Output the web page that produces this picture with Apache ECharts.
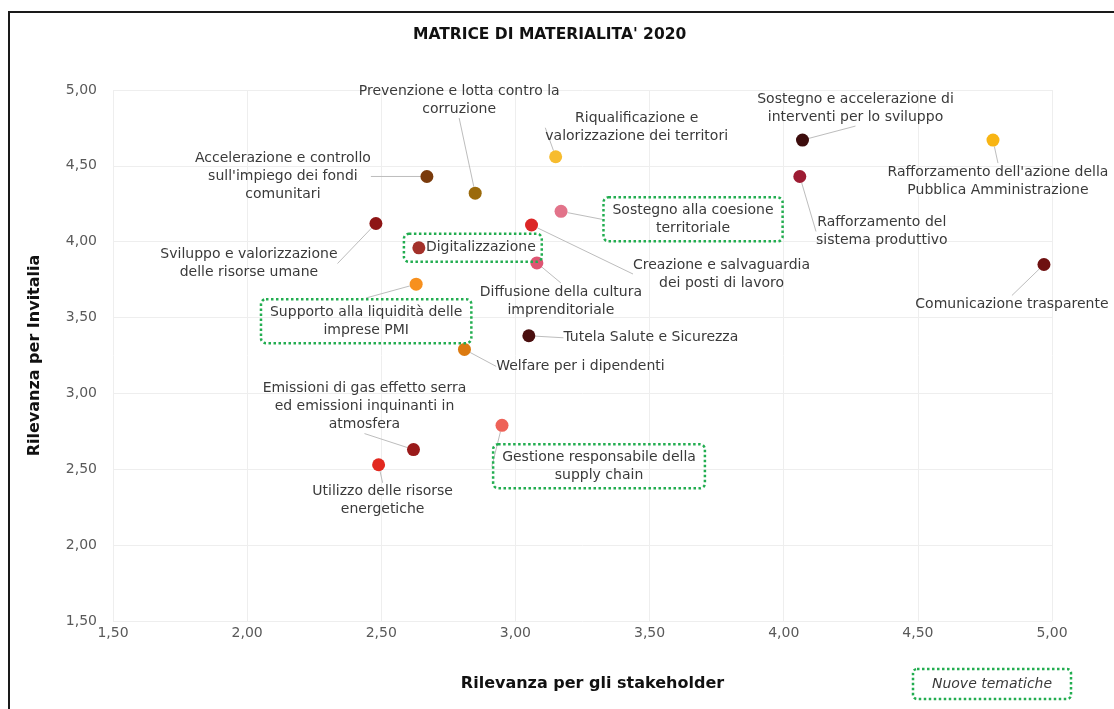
<!DOCTYPE html>
<html lang="it">
<head>
    <meta charset="UTF-8">
    <title>Matrice di materialità 2020</title>
    <script src="https://cdn.jsdelivr.net/npm/echarts@6/dist/echarts.min.js"></script>
    <style>
        html, body { margin: 0; padding: 0; background: #fff; }
    </style>
</head>
<body>
    <div id="matrixDiv" style="width: 1114px;height:709px;"></div>
    <script>
        // temi materiali (testo delle etichette)
        var topics = [
            'Accelerazione e controllo\nsull\'impiego dei fondi\ncomunitari',
            'Prevenzione e lotta contro la\ncorruzione',
            'Riqualificazione e\nvalorizzazione dei territori',
            'Sostegno e accelerazione di\ninterventi per lo sviluppo',
            'Rafforzamento dell\'azione della\nPubblica Amministrazione',
            'Rafforzamento del\nsistema produttivo',
            'Sostegno alla coesione\nterritoriale',
            'Creazione e salvaguardia\ndei posti di lavoro',
            'Sviluppo e valorizzazione\ndelle risorse umane',
            'Digitalizzazione',
            'Diffusione della cultura\nimprenditoriale',
            'Comunicazione trasparente',
            'Supporto alla liquidità delle\nimprese PMI',
            'Tutela Salute e Sicurezza',
            'Welfare per i dipendenti',
            'Gestione responsabile della\nsupply chain',
            'Emissioni di gas effetto serra\ned emissioni inquinanti in\natmosfera',
            'Utilizzo delle risorse\nenergetiche'
        ];
        // rilevanza per gli stakeholder (asse x)
        var stakeholder = [2.67, 2.85, 3.15, 4.07, 4.78, 4.06, 3.17, 3.06, 2.48,
                           2.64, 3.08, 4.97, 2.63, 3.05, 2.81, 2.95, 2.62, 2.49];
        // rilevanza per Invitalia (asse y)
        var invitalia = [4.43, 4.32, 4.56, 4.67, 4.67, 4.43, 4.20, 4.11, 4.12,
                         3.96, 3.86, 3.85, 3.72, 3.38, 3.29, 2.79, 2.63, 2.53];
        // nuove tematiche 2020
        var isNew = [false, false, false, false, false, false, true, false, false,
                     true, false, false, true, false, false, true, false, false];
        var axisTicks = [1.5, 2, 2.5, 3, 3.5, 4, 4.5, 5];

        // colori dei punti
        var dotColors = ['#7a3b0c', '#9b6a0b', '#f7bc2f', '#3d0d0d', '#f8b514', '#9d1c33',
                         '#e2738a', '#dc2626', '#8e1515', '#a3302a', '#de5573', '#6e1010',
                         '#f7901e', '#4a0f0f', '#dc7a10', '#ee6258', '#9a1a1a', '#e2281f'];
        // spostamento etichette rispetto al punto (px)
        var labelShift = [[-144, 0], [-16, -93], [81, -29], [53, -32], [5, 41], [82, 55],
                          [132, 8], [190, 49], [-127, 40], [54, 0], [24, 38], [-32, 40],
                          [-50, 37], [122, 2], [116, 17], [97, 41], [-49, -43], [4, 36]];

        var green = '#22ad50';
        var fmt = function (v) { return v.toFixed(2).replace('.', ','); };

        var points = [];
        for (var i = 0; i < topics.length; i++) {
            var item = {
                name: topics[i],
                value: [stakeholder[i], invitalia[i]],
                itemStyle: { color: dotColors[i], opacity: 1 }
            };
            if (isNew[i]) {
                item.label = {
                    borderColor: green,
                    borderWidth: 2.5,
                    borderType: 'dotted',
                    borderRadius: 5,
                    padding: [4, 9]
                };
            }
            if (topics[i] === 'Digitalizzazione') {
                // il riquadro comprende anche il punto
                item.label.padding = [5, 6, 5, 22];
                item.labelLine = { show: false };
            }
            points.push(item);
        }

        var content = document.getElementById('matrixDiv');
        var myChart = echarts.init(content);

        var option = {
            backgroundColor: '#fff',
            animation: false,
            textStyle: { fontFamily: 'DejaVu Sans' },
            title: {
                text: 'MATRICE DI MATERIALITA\' 2020',
                left: 408,
                top: 22,
                textStyle: { fontFamily: 'DejaVu Sans', fontSize: 15.5, fontWeight: 'bold', color: '#111' }
            },
            grid: { left: 113, right: 62, top: 90, bottom: 88, containLabel: false },
            xAxis: {
                type: 'value',
                min: axisTicks[0],
                max: axisTicks[axisTicks.length - 1],
                interval: 0.5,
                name: 'Rilevanza per gli stakeholder',
                nameLocation: 'middle',
                nameGap: 55,
                nameTextStyle: { fontSize: 16, fontWeight: 'bold', color: '#111', padding: [0, 0, 0, 20] },
                axisLine: { show: false },
                axisTick: { show: false },
                axisLabel: { formatter: fmt, fontSize: 14, color: '#595959', margin: 5 },
                splitLine: { lineStyle: { color: '#eeeeee', width: 1 } }
            },
            yAxis: {
                type: 'value',
                min: axisTicks[0],
                max: axisTicks[axisTicks.length - 1],
                interval: 0.5,
                name: 'Rilevanza per Invitalia',
                nameLocation: 'middle',
                nameGap: 70,
                nameTextStyle: { fontSize: 16, fontWeight: 'bold', color: '#111' },
                axisLine: { show: false },
                axisTick: { show: false },
                axisLabel: { formatter: fmt, fontSize: 14, color: '#595959', margin: 16 },
                splitLine: { lineStyle: { color: '#eeeeee', width: 1 } }
            },
            series: [{
                type: 'scatter',
                symbolSize: 13,
                data: points,
                itemStyle: { opacity: 1 },
                label: {
                    show: true,
                    position: 'inside',
                    formatter: '{b}',
                    color: '#3a3a3a',
                    fontSize: 14,
                    lineHeight: 18,
                    align: 'center'
                },
                labelLine: {
                    show: true,
                    lineStyle: { color: '#bdbdbd', width: 1 }
                },
                labelLayout: function (params) {
                    var s = labelShift[params.dataIndex];
                    return { dx: s[0], dy: s[1] };
                },
                emphasis: { disabled: true }
            }],
            graphic: [
                {
                    type: 'rect',
                    silent: true,
                    shape: { x: 9, y: 12, width: 1200, height: 800 },
                    style: { fill: 'none', stroke: '#1a1a1a', lineWidth: 2 }
                },
                {
                    type: 'rect',
                    silent: true,
                    shape: { x: 913, y: 669, width: 158, height: 30, r: 4 },
                    style: { fill: 'none', stroke: green, lineWidth: 2.5, lineDash: [2.5, 2.5] }
                },
                {
                    type: 'text',
                    silent: true,
                    x: 992,
                    y: 684,
                    style: {
                        text: 'Nuove tematiche',
                        fill: '#3a3a3a',
                        font: 'italic 14px "DejaVu Sans"',
                        align: 'center',
                        verticalAlign: 'middle'
                    }
                }
            ]
        };

        myChart.setOption(option, true);
    </script>
</body>
</html>
